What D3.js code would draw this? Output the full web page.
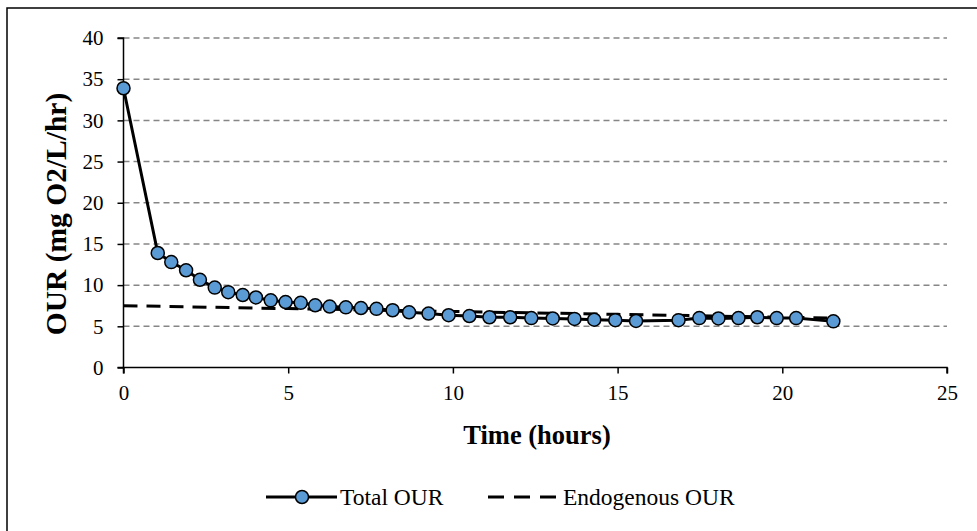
<!DOCTYPE html>
<html>
<head>
<meta charset="utf-8">
<script src="https://cdn.jsdelivr.net/npm/d3@7"></script>
<style>
  html, body { margin: 0; padding: 0; background: #fff; }
  svg { display: block; }
  text { font-family: "Liberation Serif", "Times New Roman", serif; fill: #000; }
</style>
</head>
<body>
<svg id="chart" width="977" height="531"></svg>
<script>
// Oxygen uptake rate measurements over time
const timeHours = [0, 1.04, 1.45, 1.9, 2.32, 2.77, 3.18, 3.62, 4.02, 4.47, 4.92, 5.38, 5.82, 6.26, 6.75, 7.21, 7.68, 8.17, 8.67, 9.26, 9.87, 10.5, 11.11, 11.74, 12.38, 13.03, 13.69, 14.29, 14.93, 15.56, 16.85, 17.48, 18.06, 18.67, 19.24, 19.83, 20.42, 21.55];
const totalOUR = [33.9, 13.9, 12.8, 11.8, 10.65, 9.7, 9.15, 8.8, 8.5, 8.15, 7.95, 7.85, 7.55, 7.4, 7.3, 7.22, 7.12, 6.95, 6.7, 6.55, 6.35, 6.25, 6.1, 6.1, 6.0, 5.95, 5.9, 5.8, 5.75, 5.65, 5.75, 6.0, 5.95, 6.0, 6.1, 6.0, 6.0, 5.6];

const endoTime = [0, 5, 10, 15, 21.55];
const endoOUR = [7.5, 7.15, 6.8, 6.45, 6.0];

const xTicks = [0, 5, 10, 15, 20, 25];
const yTicks = [0, 5, 10, 15, 20, 25, 30, 35, 40];

const svg = d3.select("#chart");

// outer frame
svg.append("rect")
  .attr("x", 7).attr("y", 8)
  .attr("width", 990).attr("height", 540)
  .attr("fill", "none").attr("stroke", "#000").attr("stroke-width", 1.5);

const plotLeft = 123.5, plotRight = 947, plotTop = 38, plotBottom = 367.5;

const x = d3.scaleLinear().domain([0, 25]).range([plotLeft, plotRight]);
const y = d3.scaleLinear().domain([0, 40]).range([plotBottom, plotTop]);

// horizontal gridlines
svg.append("g")
  .selectAll("line")
  .data(yTicks.filter(d => d > 0))
  .join("line")
  .attr("x1", plotLeft).attr("x2", plotRight)
  .attr("y1", d => y(d)).attr("y2", d => y(d))
  .attr("stroke", "#868686").attr("stroke-width", 1.5)
  .attr("stroke-dasharray", "6,4");

// axes
const xAxis = svg.append("g")
  .attr("transform", `translate(0,${plotBottom})`)
  .call(d3.axisBottom(x).tickValues(xTicks).tickSize(6).tickPadding(12).tickFormat(d3.format("d")));
const yAxis = svg.append("g")
  .attr("transform", `translate(${plotLeft},0)`)
  .call(d3.axisLeft(y).tickValues(yTicks).tickSize(6).tickPadding(14).tickFormat(d3.format("d")));

[xAxis, yAxis].forEach(a => {
  a.select(".domain").attr("stroke", "#000").attr("stroke-width", 1.5);
  a.selectAll(".tick line").attr("stroke", "#000").attr("stroke-width", 1.5);
  a.selectAll(".tick text")
    .style("font-family", '"Liberation Serif", "Times New Roman", serif')
    .style("font-size", "21px").attr("fill", "#000");
});
xAxis.select(".domain").attr("d", `M${plotLeft},6V0H${plotRight}V6`);
yAxis.select(".domain").attr("d", `M-6,${plotTop}H0V${plotBottom}H-6`);

// axis titles
svg.append("text")
  .attr("x", 537).attr("y", 444)
  .attr("text-anchor", "middle")
  .style("font-size", "26.5px").style("font-weight", "bold")
  .text("Time (hours)");

svg.append("text")
  .attr("transform", `translate(66,214) rotate(-90)`)
  .attr("text-anchor", "middle")
  .style("font-size", "29.5px").style("font-weight", "bold")
  .text("OUR (mg O2/L/hr)");

// endogenous OUR (dashed)
const lineGen = d3.line().x(d => x(d[0])).y(d => y(d[1]));
svg.append("path")
  .datum(endoTime.map((t, i) => [t, endoOUR[i]]))
  .attr("d", lineGen)
  .attr("fill", "none").attr("stroke", "#000").attr("stroke-width", 3)
  .attr("stroke-dasharray", "14,9");

// total OUR line with markers
const totalData = timeHours.map((t, i) => [t, totalOUR[i]]);
svg.append("path")
  .datum(totalData)
  .attr("d", lineGen)
  .attr("fill", "none").attr("stroke", "#000").attr("stroke-width", 3);

svg.append("g")
  .selectAll("circle")
  .data(totalData)
  .join("circle")
  .attr("cx", d => x(d[0])).attr("cy", d => y(d[1]))
  .attr("r", 6.5)
  .attr("fill", "#5b9bd5").attr("stroke", "#000").attr("stroke-width", 1.5);

// legend
const lg = svg.append("g");
const ly = 497;
lg.append("line").attr("x1", 266).attr("x2", 337).attr("y1", ly).attr("y2", ly)
  .attr("stroke", "#000").attr("stroke-width", 3);
lg.append("circle").attr("cx", 302).attr("cy", ly).attr("r", 6.5)
  .attr("fill", "#5b9bd5").attr("stroke", "#000").attr("stroke-width", 1.5);
lg.append("text").attr("x", 340).attr("y", ly + 8)
  .style("font-size", "23.5px").text("Total OUR");

lg.append("line").attr("x1", 488).attr("x2", 558).attr("y1", ly).attr("y2", ly)
  .attr("stroke", "#000").attr("stroke-width", 3).attr("stroke-dasharray", "16,10");
lg.append("text").attr("x", 563).attr("y", ly + 8)
  .style("font-size", "23.5px").text("Endogenous OUR");
</script>
</body>
</html>
